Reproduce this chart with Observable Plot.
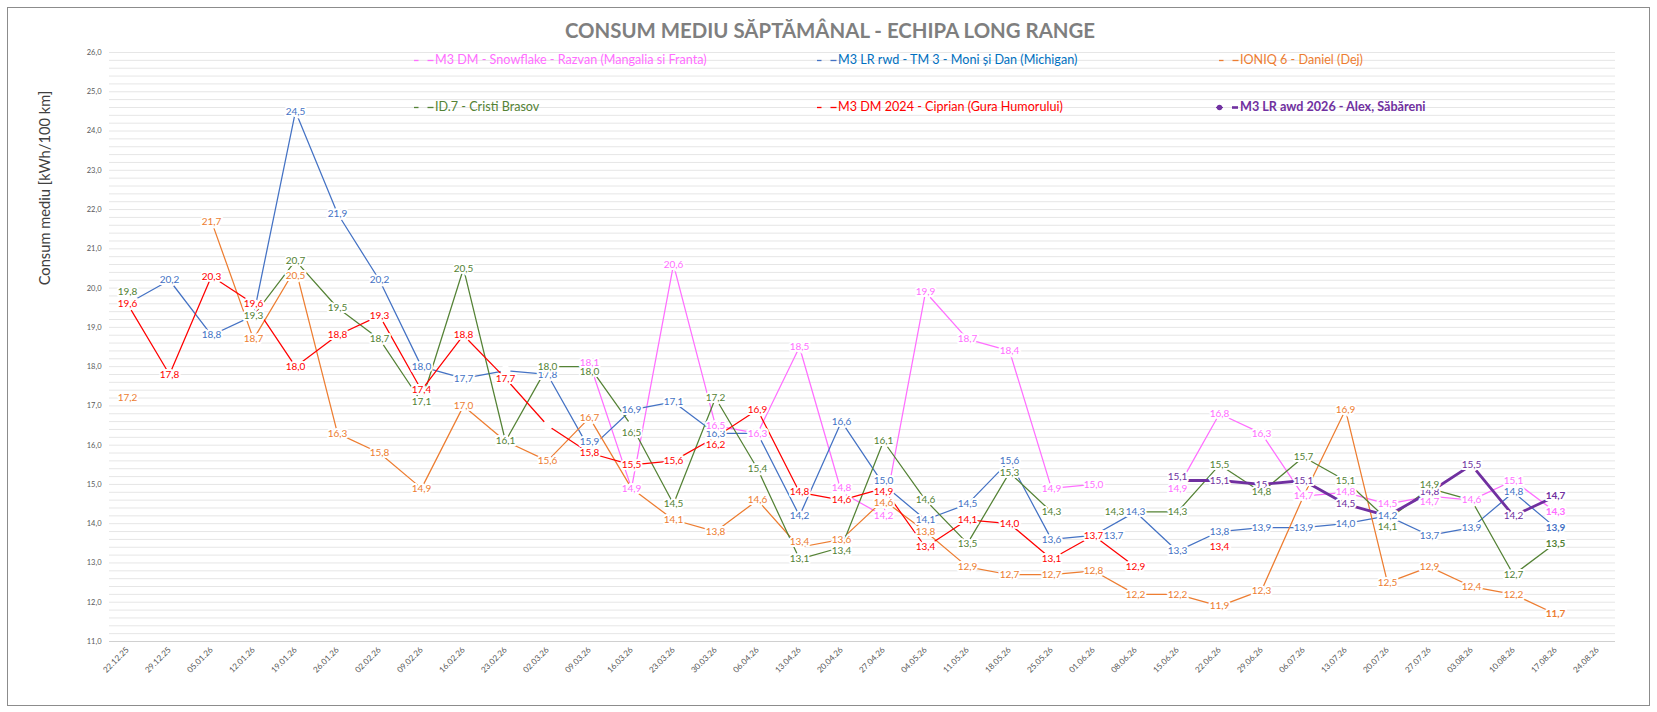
<!DOCTYPE html>
<html>
<head>
<meta charset="utf-8">
<script src="https://cdn.jsdelivr.net/npm/d3@7"></script>
<script src="https://cdn.jsdelivr.net/npm/@observablehq/plot@0.6"></script>
<style>
  body { margin: 0; background: #fff; font-family: Lato, "Noto Sans", sans-serif; }
  #wrap { position: relative; width: 1657px; height: 712px; overflow: hidden; background: #fff; }
  #chart { position: absolute; left: 0; top: 0; }
  #frame { position: absolute; left: 7px; top: 7px; width: 1643px; height: 699px; border: 1px solid #8c8c8c; box-sizing: border-box; pointer-events: none; }
  #title { position: absolute; left: 0; top: 18px; width: 1660px; text-align: center; font-weight: 700; font-size: 20.4px; line-height: 24px; color: #7f7f7f; white-space: nowrap; }
  #ylab { position: absolute; left: 44px; top: 188px; transform: translate(-50%, -50%) rotate(-90deg); font-size: 14.7px; color: #404040; white-space: nowrap; }
  .lg { position: absolute; font-size: 12.6px; line-height: 14px; white-space: nowrap; display: flex; align-items: center; }
  .lg svg { display: block; margin-right: 1px; }
</style>
</head>
<body>
<div id="wrap">
  <div id="chart"></div>
  <div id="frame"></div>
  <div id="title"></div>
  <div id="ylab"></div>
  <div id="legend"></div>
</div>
<script>
// ---------- data ----------
const titleText = "CONSUM MEDIU SĂPTĂMÂNAL - ECHIPA LONG RANGE";
const yTitle = "Consum mediu [kWh/100 km]";

const weeks = ["22.12.25","29.12.25","05.01.26","12.01.26","19.01.26","26.01.26","02.02.26","09.02.26",
  "16.02.26","23.02.26","02.03.26","09.03.26","16.03.26","23.03.26","30.03.26","06.04.26","13.04.26",
  "20.04.26","27.04.26","04.05.26","11.05.26","18.05.26","25.05.26","01.06.26","08.06.26","15.06.26",
  "22.06.26","29.06.26","06.07.26","13.07.26","20.07.26","27.07.26","03.08.26","10.08.26","17.08.26","24.08.26"];

const seriesNames = [
  "M3 DM - Snowflake - Razvan (Mangalia si Franta)",
  "M3 LR rwd - TM 3 - Moni și Dan (Michigan)",
  "IONIQ 6 - Daniel (Dej)",
  "ID.7 - Cristi Brasov",
  "M3 DM 2024 - Ciprian (Gura Humorului)",
  "M3 LR awd 2026 - Alex, Săbăreni"
];

const snowflake = [null,null,null,null,null,null,null,null,null,null,null,18.1,14.9,20.6,16.5,16.3,18.5,14.8,14.2,19.9,18.7,18.4,14.9,15.0,null,14.9,16.8,16.3,14.7,14.8,14.5,14.7,14.6,15.1,14.3,null];
const moniDan   = [19.6,20.2,18.8,19.3,24.5,21.9,20.2,18.0,17.7,17.9,17.8,15.9,16.9,17.1,16.3,16.3,14.2,16.6,15.0,14.1,14.5,15.6,13.6,13.7,14.3,13.3,13.8,13.9,13.9,14.0,14.2,13.7,13.9,14.8,13.9,null];
const ioniq6    = [17.2,null,21.7,18.7,20.5,16.3,15.8,14.9,17.0,16.1,15.6,16.7,14.9,14.1,13.8,14.6,13.4,13.6,14.6,13.8,12.9,12.7,12.7,12.8,12.2,12.2,11.9,12.3,14.7,16.9,12.5,12.9,12.4,12.2,11.7,null];
const id7       = [19.8,null,null,19.3,20.7,19.5,18.7,17.1,20.5,16.1,18.0,18.0,16.5,14.5,17.2,15.4,13.1,13.4,16.1,14.6,13.5,15.3,14.3,null,14.3,14.3,15.5,14.8,15.7,15.1,14.1,14.9,14.6,12.7,13.5,null];
const ciprian   = [19.6,17.8,20.3,19.6,18.0,18.8,19.3,17.4,18.8,17.7,16.5,15.8,15.5,15.6,16.2,16.9,14.8,14.6,14.9,13.4,14.1,14.0,13.1,13.7,12.9,null,13.4,null,null,null,null,null,null,null,null,null];
const alex      = [null,null,null,null,null,null,null,null,null,null,null,null,null,null,null,null,null,null,null,null,null,null,null,null,null,15.1,15.1,15.0,15.1,14.5,14.2,14.8,15.5,14.2,14.7,null];

const yTicks = [11,12,13,14,15,16,17,18,19,20,21,22,23,24,25,26];

// ---------- styles ----------
const FONT = "Lato, 'Noto Sans', sans-serif";
const fmtComma = v => v.toFixed(1).replace(".", ",");
const fmtGeneral = v => String(v).replace(".", ",");
const series = [
  {key: "pink",   values: snowflake, color: "#ff6eff", text: "#ff6eff", width: 1.25, fmt: fmtComma},
  {key: "blue",   values: moniDan,   color: "#4472c4", text: "#0070c0", width: 1.25, fmt: fmtComma},
  {key: "orange", values: ioniq6,    color: "#ed7d31", text: "#ed7d31", width: 1.25, fmt: fmtComma},
  {key: "green",  values: id7,       color: "#548235", text: "#548235", width: 1.25, fmt: fmtComma},
  {key: "red",    values: ciprian,   color: "#ff0000", text: "#ff0000", width: 1.25, fmt: fmtComma},
  {key: "purple", values: alex,      color: "#7030a0", text: "#7030a0", width: 2.8,  fmt: fmtGeneral, bold: true}
];
series.forEach((s, k) => s.name = seriesNames[k]);

// labels that are moved by hand in the original, or hidden
const labelNudges = [
  {key: "green",  i: 0,  dx: 0,   dy: -4},
  {key: "orange", i: 4,  dx: 0,   dy: 7},
  {key: "green",  i: 11, dx: 0,   dy: 5},
  {key: "blue",   i: 11, dx: 0,   dy: -7},
  {key: "green",  i: 12, dx: 0,   dy: 7},
  {key: "red",    i: 14, dx: 0,   dy: 7},
  {key: "orange", i: 16, dx: 0,   dy: -5},
  {key: "pink",   i: 17, dx: 0,   dy: -4},
  {key: "green",  i: 17, dx: 0,   dy: 4},
  {key: "blue",   i: 18, dx: 0,   dy: -4},
  {key: "red",    i: 18, dx: 0,   dy: 3},
  {key: "orange", i: 18, dx: 0,   dy: 3},
  {key: "blue",   i: 23, dx: 20,  dy: 0},
  {key: "green",  i: 24, dx: -21, dy: 0},
  {key: "purple", i: 25, dx: 0,   dy: -4},
  {key: "green",  i: 30, dx: 0,   dy: 7},
  {key: "green",  i: 31, dx: 0,   dy: -4},
  {key: "pink",   i: 31, dx: 0,   dy: 6}
];
const hiddenLabels = [{key: "blue", i: 9}, {key: "red", i: 10}];

// ---------- table ----------
const rows = [];
for (const s of series) {
  s.values.forEach((v, i) => rows.push({key: s.key, i, week: weeks[i], v, color: s.color,
    label: v == null ? null : s.fmt(v)}));
}

const marks = [];
const gridVals = d3.range(1, 76).map(k => 11 + k * 0.2);
marks.push(Plot.ruleY(gridVals, {stroke: "#e6e6e6", strokeWidth: 1}));
marks.push(Plot.ruleY([11], {stroke: "#d0d0d0", strokeWidth: 1}));
marks.push(Plot.axisY({ticks: yTicks, tickSize: 0, tickPadding: 8, tickFormat: fmtComma,
  fontSize: 7.5, fill: "#595959", label: null}));
// category tick labels, rotated, hanging under the axis line
marks.push(Plot.text(weeks, {x: d => d, frameAnchor: "bottom", rotate: -45, textAnchor: "end",
  lineAnchor: "middle", dx: 0, dy: 7, fontSize: 8.2, fill: "#595959", fontFamily: FONT}));

for (const s of series) {
  const r = rows.filter(d => d.key === s.key);
  marks.push(Plot.line(r, {x: "week", y: "v", stroke: s.color, strokeWidth: s.width, strokeLinejoin: "round"}));
  marks.push(Plot.dot(r.filter(d => d.v != null), {x: "week", y: "v", r: 5, fill: "white", stroke: "none"}));
}

const labelOrder = ["purple", "blue", "orange", "green", "red", "pink"];
const match = (list, d) => list.some(n => n.key === d.key && n.i === d.i);
const labelRows = labelOrder.flatMap(k => rows.filter(d => d.key === k && d.v != null && !match(hiddenLabels, d)));
const textOpts = {x: "week", y: "v", text: "label", fill: "color", stroke: "white", strokeWidth: 4,
  paintOrder: "stroke", strokeLinejoin: "round", fontSize: 10, fontFamily: FONT};
const lastIdx = 34;
marks.push(Plot.text(labelRows.filter(d => !match(labelNudges, d) && d.i !== lastIdx), textOpts));
for (const n of labelNudges) {
  marks.push(Plot.text(labelRows.filter(d => d.key === n.key && d.i === n.i), {...textOpts, dx: n.dx, dy: n.dy}));
}
marks.push(Plot.text(labelRows.filter(d => d.i === lastIdx), {...textOpts, fontWeight: 700}));

const chart = Plot.plot({
  width: 1657,
  height: 712,
  marginTop: 52,
  marginBottom: 71,
  marginLeft: 109,
  marginRight: 42,
  x: {type: "point", domain: weeks, padding: 0, inset: 3, axis: null},
  y: {domain: [11, 26]},
  color: {type: "identity"},
  style: {fontFamily: FONT, background: "transparent", overflow: "visible"},
  marks
});
document.getElementById("chart").appendChild(chart);

// ---------- title, axis title, legend ----------
document.getElementById("title").textContent = titleText;
document.getElementById("ylab").textContent = yTitle;

const legendSlots = [
  {left: 414, top: 60}, {left: 817, top: 60}, {left: 1219, top: 60},
  {left: 414, top: 107}, {left: 817, top: 107}, {left: 1216, top: 107}
];
const legend = document.getElementById("legend");
series.forEach((s, k) => {
  const slot = legendSlots[k];
  const div = document.createElement("div");
  div.className = "lg";
  div.style.left = slot.left + "px";
  div.style.top = (slot.top - 7) + "px";
  div.style.color = s.text;
  if (s.bold) div.style.fontWeight = "700";
  let key;
  if (s.bold) {
    key = `<svg width="23" height="10"><line x1="0" x2="7" y1="5.5" y2="5.5" stroke="${s.color}" stroke-width="1.2"/><circle cx="3.5" cy="5.5" r="2.7" fill="${s.color}"/><line x1="16" x2="22" y1="5.5" y2="5.5" stroke="${s.color}" stroke-width="2.6"/></svg>`;
  } else {
    key = `<svg width="20" height="10"><line x1="0" x2="4.5" y1="5.5" y2="5.5" stroke="${s.color}" stroke-width="1.3"/><line x1="13.5" x2="19.5" y1="5.5" y2="5.5" stroke="${s.color}" stroke-width="1.3"/></svg>`;
  }
  div.innerHTML = key + "<span></span>";
  div.querySelector("span").textContent = s.name;
  legend.appendChild(div);
});
</script>
</body>
</html>
